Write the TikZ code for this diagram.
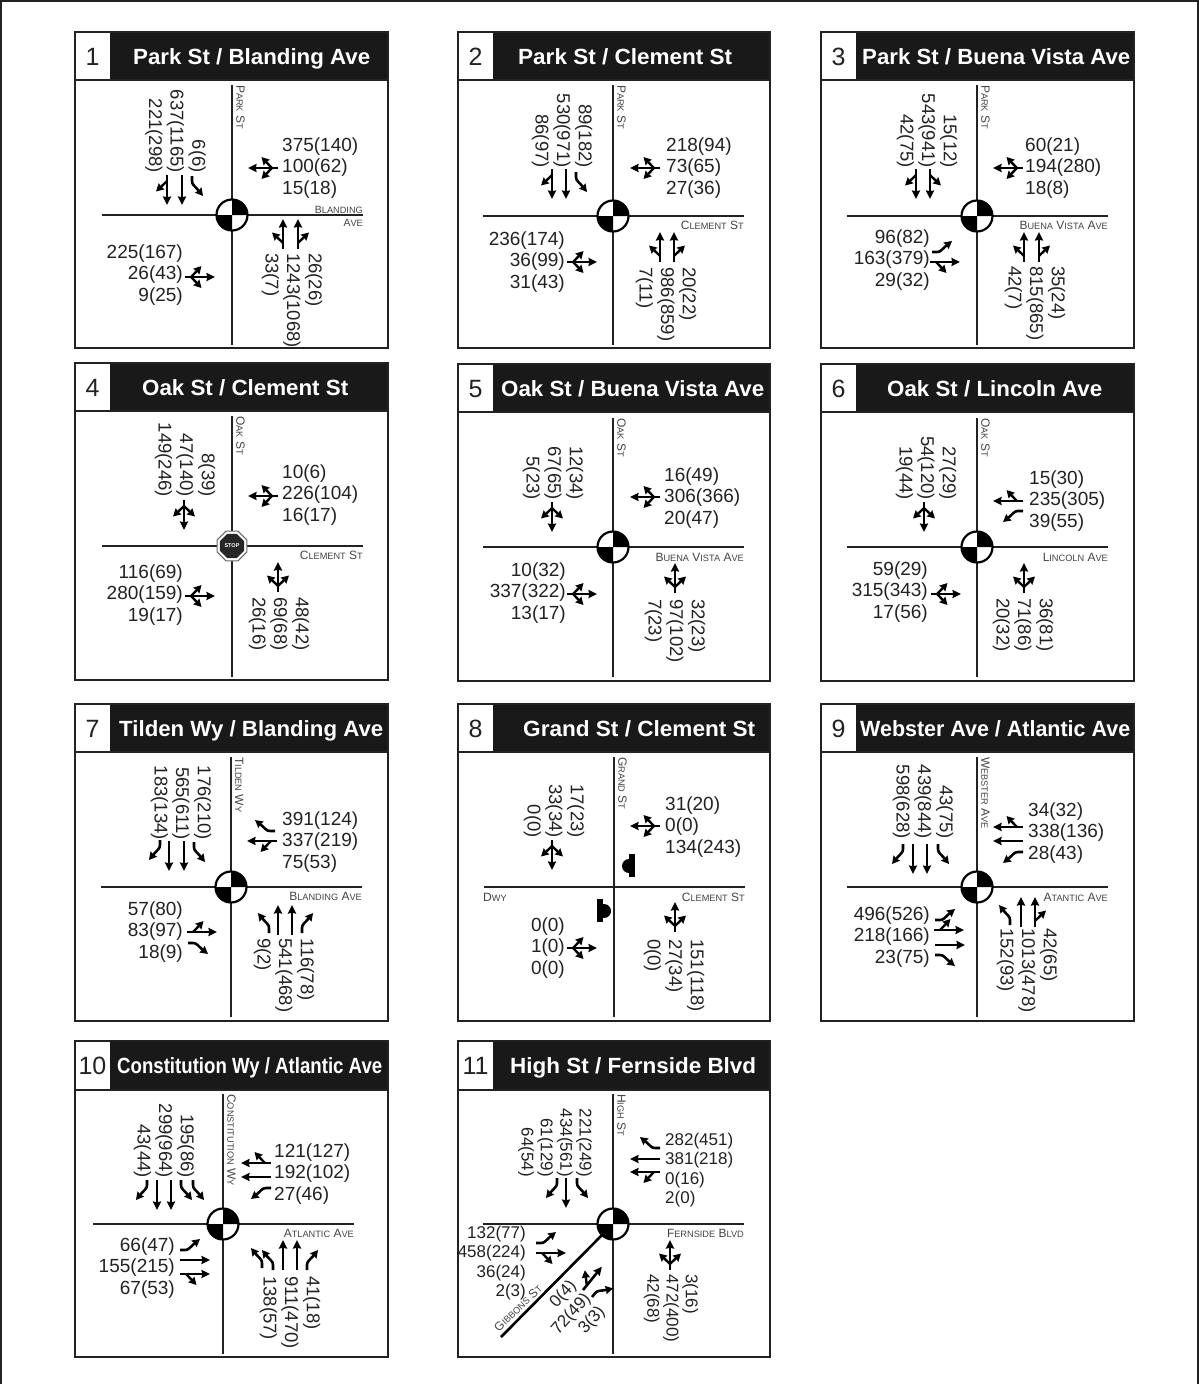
\documentclass[tikz,border=0pt]{standalone}
\usepackage{fontspec}
\usepackage{graphicx}
\setmainfont{Liberation Sans}
\usetikzlibrary{arrows.meta,shapes.geometric}
\definecolor{ink}{HTML}{222222}
\definecolor{lab}{HTML}{444444}
\newcounter{nn}
\newcommand\C[1]{{\fontsize{9.2}{10}\selectfont #1}}
\tikzset{
  mv/.style={line width=2.6pt,draw=black,-{Stealth[length=8.5pt,width=8pt,inset=0.8pt,fill=black]}},
  wing/.style={line width=2.4pt,draw=black,-{Stealth[length=7.5pt,width=8pt,inset=0.5pt,fill=black]}},
  stk/.style={inner sep=0pt,text=ink,font=\fontsize{19}{21.7}\selectfont},
  vstk/.style={inner sep=0pt,text=ink,font=\fontsize{18.5}{21.7}\selectfont},
  road/.style={line width=2.2pt,draw=ink},
  rl/.style={inner sep=0pt,text=lab,font=\fontsize{12}{12}\selectfont},
}
\newcommand\Ag[4]{\begin{scope}[shift={(#1,#2)},rotate=#3]#4\end{scope}}
\newcommand\mT[1][30]{\draw[mv](0,0)--(0,-#1);}
\newcommand\mBL{\draw[wing](0,-6)..controls (-2,-8) and (-3,-9)..(-11,-16.5);}
\newcommand\mBR{\draw[wing](0,-6)..controls (2,-8) and (3,-9)..(11,-16.5);}
\newcommand\mTL{\draw[wing,line width=2.6pt](0,0)--(0,-5)..controls (0,-9) and (-3,-10)..(-11,-20);}
\newcommand\mTR{\draw[wing,line width=2.6pt](0,0)--(0,-5)..controls (0,-9) and (3,-10)..(11,-20);}
\newcommand\SBt[3]{\stepcounter{nn}\node[vstk,rotate=-90,anchor=east,align=right] (n\arabic{nn}) at (#1,#2) {#3};}
\newcommand\NBt[3]{\stepcounter{nn}\node[vstk,rotate=-90,anchor=west,align=left] (n\arabic{nn}) at (#1,#2) {#3};}
\newcommand\EAt[3]{\stepcounter{nn}\node[stk,anchor=west,align=left] (n\arabic{nn}) at (#1,#2) {#3};}
\newcommand\WEt[3]{\stepcounter{nn}\node[stk,anchor=east,align=right] (n\arabic{nn}) at (#1,#2) {#3};}
% left right top titlebottom bottom num x1 x2 title
\newcommand\Panel[9]{%
  \pgfmathsetmacro\pmid{(#3+#4)/2}%
  \pgfmathsetmacro\tw{#8-#7}%
  \fill[white] (#1,#3) rectangle (#2,#5);
  \fill[black!90] (#1+35,#3) rectangle (#2,#4);
  \draw[line width=1.6pt,draw=ink] (#1,#3) rectangle (#2,#5);
  \draw[line width=1.6pt,draw=ink] (#1,#4) -- (#2,#4);
  \stepcounter{nn}\node[inner sep=0pt,anchor=base,text=ink,font=\fontsize{25}{25}\selectfont] (n\arabic{nn}) at (#1+17.5,\pmid+9) {#6};
  \stepcounter{nn}\node[inner sep=0pt,anchor=base west,text=white,font=\bfseries\fontsize{22}{22}\selectfont] (n\arabic{nn}) at (#7,\pmid+8) {\resizebox{\tw pt}{\height}{#9}};
}
% roads: cx cy top bottom
\newcommand\Roads[4]{%
  \draw[road] (#1-130,#2) -- (#1+131,#2);
  \draw[road] (#1,#3) -- (#1,#4);
}
\newcommand\Sig[2]{%
  \fill[white] (#1,#2) circle (15.5);
  \fill[black] (#1,#2) -- (#1-15.5,#2) arc (180:90:15.5) -- cycle;
  \fill[black] (#1,#2) -- (#1+15.5,#2) arc (0:-90:15.5) -- cycle;
  \draw[line width=2.2pt,draw=black] (#1,#2) circle (15.5);
}
\newcommand\VL[3]{\stepcounter{nn}\node[rl,rotate=-90,anchor=south west] (n\arabic{nn}) at (#1,#2) {#3};}
\newcommand\HL[3]{\stepcounter{nn}\node[rl,anchor=east] (n\arabic{nn}) at (#1,#2) {#3};}
\begin{document}
\begin{tikzpicture}[x=1pt,y=-1pt]
\useasboundingbox (0,0) rectangle (1199,1384);
\fill[white] (0,0) rectangle (1199,1384);
\draw[line width=2pt,draw=ink] (1,1384) -- (1,1) -- (1198,1) -- (1198,1384);

%% ---------- 1
\Panel{75}{388}{32}{80}{348}{1}{133}{370}{Park St / Blanding Ave}
\Roads{232}{215}{85}{345}\Sig{232}{215}
\VL{236}{85}{P\C{ARK} S\C{T}}
\begin{scope}[rl/.append style={font=\fontsize{10.5}{10.5}\selectfont}]
\HL{363}{210}{B\C{LANDING}}\HL{363}{223}{A\C{VE}}
\end{scope}
\SBt{175.5}{173}{6(6)\\637(1165)\\221(298)}
\EAt{282}{168}{375(140)\\100(62)\\15(18)}
\WEt{183}{275}{225(167)\\26(43)\\9(25)}
\NBt{292}{253}{26(26)\\1243(1068)\\33(7)}
\Ag{167}{175}{180}{\mT\mBR}\Ag{182}{175}{180}{\mT}\Ag{192}{176}{180}{\mTL}
\Ag{278}{168}{90}{\mT\mBL\mBR}
\Ag{283}{249}{0}{\mT\mBL}\Ag{298}{249}{0}{\mT\mBR}
\Ag{185}{277}{270}{\mT\mBL\mBR}

%% ---------- 2
\Panel{458}{770}{32}{80}{348}{2}{518}{732}{Park St / Clement St}
\Roads{613}{216}{85}{345}\Sig{613}{216}
\VL{617}{85}{P\C{ARK} S\C{T}}
\HL{744}{225}{C\C{LEMENT} S\C{T}}
\SBt{562}{168}{89(182)\\530(971)\\86(97)}
\EAt{666}{168}{218(94)\\73(65)\\27(36)}
\WEt{565}{262}{236(174)\\36(99)\\31(43)}
\NBt{666}{267}{20(22)\\986(859)\\7(11)}
\Ag{552}{169}{180}{\mT\mBR}\Ag{566}{169}{180}{\mT}\Ag{576}{172}{180}{\mTL}
\Ag{660}{168}{90}{\mT\mBL\mBR}
\Ag{660}{262}{0}{\mT\mBL}\Ag{674}{262}{0}{\mT\mBR}
\Ag{567}{262}{270}{\mT\mBL\mBR}

%% ---------- 3
\Panel{821}{1134}{32}{80}{348}{3}{862}{1130}{Park St / Buena Vista Ave}
\Roads{977}{216}{85}{345}\Sig{977}{216}
\VL{981}{85}{P\C{ARK} S\C{T}}
\HL{1108}{225}{B\C{UENA} V\C{ISTA} A\C{VE}}
\SBt{927}{168}{15(12)\\543(941)\\42(75)}
\EAt{1025}{168}{60(21)\\194(280)\\18(8)}
\WEt{930}{260}{96(82)\\163(379)\\29(32)}
\NBt{1035}{266}{35(24)\\815(865)\\42(7)}
\Ag{916}{169}{180}{\mT\mBR}\Ag{930}{169}{180}{\mT\mBL}
\Ag{1023}{168}{90}{\mT\mBL\mBR}
\Ag{932}{252}{270}{\mTL}\Ag{930}{262}{270}{\mT\mBR}
\Ag{1024}{262}{0}{\mT\mBL}\Ag{1039}{262}{0}{\mT\mBR}

%% ---------- 4
\Panel{75}{388}{363}{411}{680}{4}{142}{348}{Oak St / Clement St}
\Roads{232}{546}{416}{677}
\VL{236}{416}{O\C{AK} S\C{T}}
\HL{363}{555}{C\C{LEMENT} S\C{T}}
\node[regular polygon,regular polygon sides=8,minimum size=32pt,inner sep=0pt,fill=white,draw=black!60,line width=1pt] (stopo) at (232,546) {};
\node[regular polygon,regular polygon sides=8,minimum size=26pt,inner sep=0pt,fill=black!85,text=white,font=\bfseries\fontsize{5.5}{5.5}\selectfont] (stopi) at (232,546) {STOP};
\SBt{185}{497}{8(39)\\47(140)\\149(246)}
\EAt{282}{495}{10(6)\\226(104)\\16(17)}
\WEt{183}{595}{116(69)\\280(159)\\19(17)}
\NBt{279}{597}{48(42)\\69(68)\\26(16)}
\Ag{184}{500}{180}{\mT\mBL\mBR}
\Ag{278}{496}{90}{\mT\mBL\mBR}
\Ag{185}{596}{270}{\mT\mBL\mBR}
\Ag{278}{592}{0}{\mT\mBL\mBR}

%% ---------- 5
\Panel{458}{770}{364}{412}{681}{5}{501}{764}{Oak St / Buena Vista Ave}
\Roads{613}{547}{418}{677}\Sig{613}{547}
\VL{617}{418}{O\C{AK} S\C{T}}
\HL{744}{557}{B\C{UENA} V\C{ISTA} A\C{VE}}
\SBt{553}{500}{12(34)\\67(65)\\5(23)}
\EAt{664}{498}{16(49)\\306(366)\\20(47)}
\WEt{566}{593}{10(32)\\337(322)\\13(17)}
\NBt{675}{599}{32(23)\\97(102)\\7(23)}
\Ag{552}{502}{180}{\mT\mBL\mBR}
\Ag{660}{497}{90}{\mT\mBL\mBR}
\Ag{567}{594}{270}{\mT\mBL\mBR}
\Ag{675}{593}{0}{\mT\mBL\mBR}

%% ---------- 6
\Panel{821}{1134}{364}{412}{681}{6}{887}{1102}{Oak St / Lincoln Ave}
\Roads{977}{547}{418}{677}\Sig{977}{547}
\VL{981}{418}{O\C{AK} S\C{T}}
\HL{1108}{557}{L\C{INCOLN} A\C{VE}}
\SBt{926}{500}{27(29)\\54(120)\\19(44)}
\EAt{1029}{501}{15(30)\\235(305)\\39(55)}
\WEt{928}{592}{59(29)\\315(343)\\17(56)}
\NBt{1023}{598}{36(81)\\71(86)\\20(32)}
\Ag{924}{502}{180}{\mT\mBL\mBR}
\Ag{1023}{501}{90}{\mT\mBR}\Ag{1023}{511}{90}{\mTL}
\Ag{931}{594}{270}{\mT\mBL\mBR}
\Ag{1024}{593}{0}{\mT\mBL\mBR}

%% ---------- 7
\Panel{75}{388}{704}{752}{1021}{7}{119}{383}{Tilden Wy / Blanding Ave}
\Roads{231}{887}{757}{1017}\Sig{231}{887}
\VL{235}{757}{T\C{ILDEN} W\C{Y}}
\HL{362}{896}{B\C{LANDING} A\C{VE}}
\SBt{181}{840}{176(210)\\565(611)\\183(134)}
\EAt{282}{842}{391(124)\\337(219)\\75(53)}
\WEt{183}{932}{57(80)\\83(97)\\18(9)}
\NBt{284}{938}{116(78)\\541(468)\\9(2)}
\Ag{160}{840}{180}{\mTR}\Ag{169}{841}{180}{\mT}\Ag{184}{841}{180}{\mT}\Ag{194}{842}{180}{\mTL}
\Ag{275}{831}{90}{\mTR}\Ag{277}{841}{90}{\mT\mBL}
\Ag{187}{932}{270}{\mT\mBL}\Ag{188}{943}{270}{\mTR}
\Ag{269}{933}{0}{\mTL}\Ag{278}{935}{0}{\mT}\Ag{292}{935}{0}{\mT}\Ag{302}{933}{0}{\mTR}

%% ---------- 8
\Panel{458}{770}{704}{752}{1021}{8}{523}{755}{Grand St / Clement St}
\Roads{614}{887}{757}{1017}
\VL{618}{757}{G\C{RAND} S\C{T}}
\stepcounter{nn}\node[rl,anchor=west] (n\arabic{nn}) at (483,897) {D\C{WY}};
\HL{745}{897}{C\C{LEMENT} S\C{T}}
\begin{scope}\clip (615,850) rectangle (632,880); \fill[black] (629,866) circle (7); \end{scope}
\fill[black] (629,854) rectangle (635,877);
\begin{scope}\clip (600,895) rectangle (620,925); \fill[black] (604,911) circle (7); \end{scope}
\fill[black] (597,899) rectangle (603,922);
\SBt{554}{838}{17(23)\\33(34)\\0(0)}
\EAt{665}{827}{31(20)\\0(0)\\134(243)}
\WEt{565}{948}{0(0)\\1(0)\\0(0)}
\NBt{674}{939}{151(118)\\27(34)\\0(0)}
\Ag{552}{840}{180}{\mT\mBL\mBR}
\Ag{660}{826}{90}{\mT\mBL\mBR}
\Ag{567}{948}{270}{\mT\mBL\mBR}
\Ag{675}{932}{0}{\mT\mBL\mBR}

%% ---------- 9
\Panel{821}{1134}{704}{752}{1021}{9}{860}{1130}{Webster Ave / Atlantic Ave}
\Roads{977}{887}{757}{1017}\Sig{977}{887}
\VL{981}{757}{W\C{EBSTER} A\C{VE}}
\HL{1108}{897}{A\C{TANTIC} A\C{VE}}
\SBt{923}{839}{43(75)\\439(844)\\598(628)}
\EAt{1028}{833}{34(32)\\338(136)\\28(43)}
\WEt{930}{937}{496(526)\\218(166)\\23(75)}
\NBt{1027}{928}{42(65)\\1013(478)\\152(93)}
\Ag{903}{844}{180}{\mTR}\Ag{913}{844}{180}{\mT}\Ag{927}{844}{180}{\mT}\Ag{938}{844}{180}{\mTL}
\Ag{1023}{827}{90}{\mT\mBR}\Ag{1023}{841}{90}{\mT}\Ag{1023}{852}{90}{\mTL}
\Ag{935}{920}{270}{\mTL}\Ag{934}{930}{270}{\mT\mBL}\Ag{935}{945}{270}{\mT}\Ag{935}{955}{270}{\mTR}
\Ag{1010}{925}{0}{\mTL}\Ag{1021}{927}{0}{\mT}\Ag{1035}{927}{0}{\mT\mBR}

%% ---------- 10
\Panel{75}{388}{1041}{1090}{1357}{10}{117}{382}{Constitution Wy / Atlantic Ave}
\Roads{223}{1224}{1094}{1354}\Sig{223}{1224}
\VL{227}{1094}{C\C{ONSTITUTION} W\C{Y}}
\HL{354}{1233}{A\C{TLANTIC} A\C{VE}}
\SBt{164}{1178}{195(86)\\299(964)\\43(44)}
\EAt{274}{1174}{121(127)\\192(102)\\27(46)}
\WEt{175}{1268}{66(47)\\155(215)\\67(53)}
\NBt{290}{1276}{41(18)\\911(470)\\138(57)}
\Ag{147}{1180}{180}{\mTR}\Ag{157}{1180}{180}{\mT}\Ag{171}{1180}{180}{\mT}\Ag{181}{1180}{180}{\mTL}\Ag{193}{1180}{180}{\mTL}
\Ag{271}{1163}{90}{\mT\mBR}\Ag{271}{1177}{90}{\mT}\Ag{271}{1188}{90}{\mTL}
\Ag{180}{1250}{270}{\mTL}\Ag{180}{1260}{270}{\mT}\Ag{180}{1274}{270}{\mT\mBR}
\Ag{262}{1268}{0}{\mTL}\Ag{273}{1270}{0}{\mTL}\Ag{283}{1270}{0}{\mT}\Ag{297}{1270}{0}{\mT}\Ag{307}{1270}{0}{\mTR}

%% ---------- 11
\Panel{458}{770}{1041}{1090}{1357}{11}{510}{756}{High St / Fernside Blvd}
\Roads{613}{1224}{1094}{1354}
\draw[line width=2.6pt,draw=black] (602,1235) -- (501,1337);
\Sig{613}{1224}
\VL{617}{1094}{H\C{IGH} S\C{T}}
\HL{744}{1233}{F\C{ERNSIDE} B\C{LVD}}
\stepcounter{nn}\node[rl,rotate=44] (n\arabic{nn}) at (518,1308) {G\C{IBBONS} S\C{T}};
\begin{scope}[stk/.append style={font=\fontsize{17}{19.3}\selectfont},vstk/.append style={font=\fontsize{17}{19.3}\selectfont}]
\SBt{555}{1177}{221(249)\\434(561)\\61(129)\\64(54)}
\EAt{665}{1170}{282(451)\\381(218)\\0(16)\\2(0)}
\WEt{526}{1263}{132(77)\\458(224)\\36(24)\\2(3)}
\NBt{671}{1274}{3(16)\\472(400)\\42(68)}
\stepcounter{nn}\node[stk,rotate=48,anchor=east,align=right] (n\arabic{nn}) at (588,1296) {0(4)\\72(49)\\3(3)};
\end{scope}
\Ag{557}{1178}{180}{\mTR}\Ag{566}{1178}{180}{\mT}\Ag{577}{1178}{180}{\mTL}
\Ag{660}{1148}{90}{\mTR}\Ag{660}{1159}{90}{\mT}\Ag{660}{1172}{90}{\mT\mBL}
\Ag{536}{1243}{270}{\mTL}\Ag{536}{1253}{270}{\mT\mBR}
\Ag{583}{1290}{-39}{\mT\mBL}\Ag{592}{1297}{-39}{\mTR}
\Ag{670}{1270}{0}{\mT\mBL\mBR}
\end{tikzpicture}
\end{document}
